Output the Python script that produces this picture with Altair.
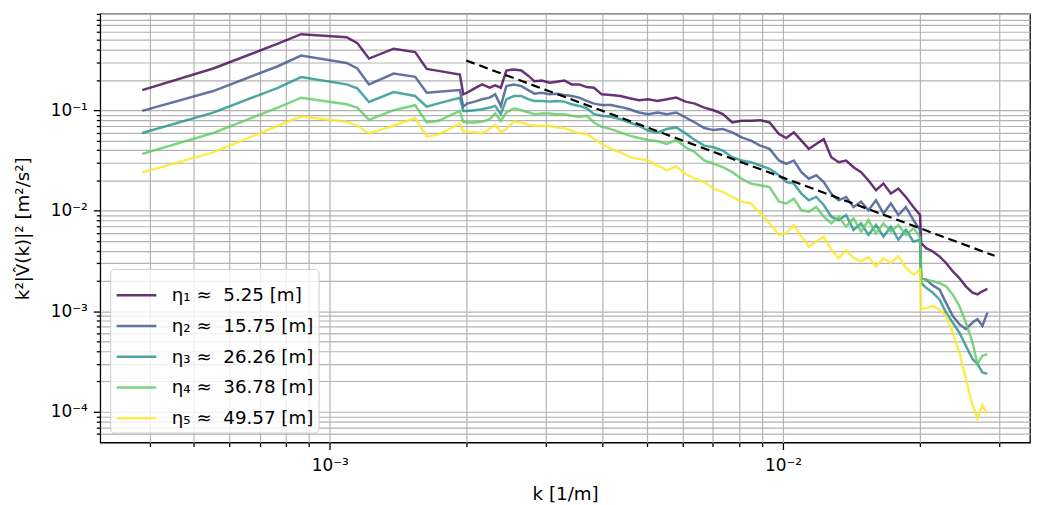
import altair as alt
import pandas as pd

# wavenumbers k [1/m]
k_lo = [3.855e-4, 5.53e-4, 7.68e-4, 8.64e-4, 1.089e-3, 1.15e-3, 1.22e-3, 1.383e-3,
        1.543e-3, 1.636e-3, 1.736e-3, 1.936e-3, 1.97e-3]
k_hi = [2.009e-3, 2.087e-3, 2.167e-3, 2.252e-3, 2.317e-3, 2.384e-3, 2.452e-3, 2.547e-3, 2.646e-3, 2.748e-3,
        2.827e-3, 2.937e-3, 3.05e-3, 3.168e-3, 3.29e-3, 3.418e-3, 3.55e-3, 3.687e-3, 3.829e-3, 3.979e-3,
        4.172e-3, 4.375e-3, 4.587e-3, 4.809e-3, 5.042e-3, 5.286e-3, 5.543e-3, 5.812e-3, 6.095e-3, 6.39e-3,
        6.70e-3, 7.025e-3, 7.366e-3, 7.727e-3, 8.101e-3, 8.495e-3, 8.909e-3, 9.342e-3, 9.795e-3, 1.017e-2,
        1.0566e-2, 1.098e-2, 1.140e-2, 1.184e-2, 1.230e-2, 1.278e-2, 1.327e-2, 1.378e-2, 1.431e-2, 1.487e-2,
        1.544e-2, 1.604e-2, 1.666e-2, 1.730e-2, 1.797e-2, 1.867e-2, 1.940e-2, 2.006e-2]
k_tail = [2.018e-2, 2.07e-2, 2.141e-2, 2.214e-2, 2.29e-2, 2.368e-2, 2.449e-2, 2.532e-2,
          2.619e-2, 2.686e-2, 2.754e-2, 2.825e-2]

eta1_lo = [0.1586, 0.260, 0.4585, 0.5705, 0.533, 0.465, 0.326, 0.409, 0.379, 0.2575, 0.246, 0.2266, 0.1439]
eta1_hi = [0.1493, 0.1647, 0.1804, 0.1673, 0.1764, 0.1673, 0.2480, 0.2537, 0.2480, 0.2180,
           0.1947, 0.1976, 0.1874, 0.1917, 0.1976, 0.1804, 0.1804, 0.1698, 0.1673, 0.1438,
           0.1416, 0.1384, 0.1313, 0.1254, 0.1283, 0.1236, 0.1283, 0.1333, 0.1217, 0.1163,
           0.1062, 0.0999, 0.0913, 0.0755, 0.0784, 0.0784, 0.0796, 0.0755, 0.0579, 0.0529,
           0.0602, 0.0498, 0.0412, 0.0461, 0.0517, 0.0341, 0.0304, 0.0316, 0.0271, 0.0242,
           0.0200, 0.0160, 0.0186, 0.0148, 0.0166, 0.0137, 0.0109, 0.00906]
eta1_tail = [0.00475, 0.00424, 0.00393, 0.00351, 0.00302, 0.00250, 0.00214, 0.00177,
             0.00153, 0.00147, 0.00158, 0.00167]

eta2_lo = [0.0984, 0.155, 0.2737, 0.349, 0.295, 0.260, 0.1806, 0.2318, 0.2147, 0.1492, 0.1527, 0.1586, 0.1085]
eta2_hi = [0.1163, 0.1217, 0.1283, 0.1333, 0.1438, 0.1103, 0.1737, 0.1804, 0.1737, 0.1574,
           0.1460, 0.1493, 0.1438, 0.1460, 0.1416, 0.1384, 0.1333, 0.1236, 0.1163, 0.1128,
           0.1128, 0.1078, 0.1022, 0.0948, 0.0913, 0.0948, 0.0913, 0.0948, 0.0846, 0.0755,
           0.0664, 0.0634, 0.0649, 0.0602, 0.0537, 0.0498, 0.0444, 0.0412, 0.0316, 0.0293,
           0.0316, 0.0242, 0.0208, 0.0225, 0.0193, 0.0148, 0.0127, 0.0137, 0.0109, 0.0123,
           0.0101, 0.0127, 0.00941, 0.0118, 0.00906, 0.0109, 0.00808, 0.00644]
eta2_tail = [0.00214, 0.00206, 0.00180, 0.00165, 0.00121, 0.000898, 0.000744, 0.000663,
             0.000772, 0.000832, 0.000715, 0.000968]

eta3_lo = [0.0593, 0.0947, 0.167, 0.2132, 0.1806, 0.165, 0.1208, 0.1516, 0.1384, 0.1085, 0.117, 0.1332, 0.0984]
eta3_hi = [0.0984, 0.0999, 0.1022, 0.1062, 0.1103, 0.0913, 0.1283, 0.1384, 0.1384, 0.1283,
           0.1236, 0.1236, 0.1217, 0.1236, 0.1217, 0.1145, 0.1103, 0.1046, 0.0913, 0.0879,
           0.0859, 0.0815, 0.0755, 0.0700, 0.0625, 0.0602, 0.0649, 0.0674, 0.0588, 0.0505,
           0.0444, 0.0428, 0.0396, 0.0341, 0.0316, 0.0304, 0.0282, 0.0261, 0.0225, 0.0193,
           0.0186, 0.0148, 0.0127, 0.0137, 0.0114, 0.00871, 0.00808, 0.00906, 0.00644, 0.00749,
           0.00575, 0.00721, 0.00553, 0.00694, 0.00513, 0.00644, 0.00494, 0.00513]
eta3_tail = [0.00191, 0.00171, 0.00153, 0.00131, 0.000968, 0.000772, 0.000615, 0.000453,
             0.000335, 0.000299, 0.000246, 0.000238]

eta4_lo = [0.0368, 0.0593, 0.1061, 0.1332, 0.1146, 0.1061, 0.0802, 0.100, 0.112, 0.0754, 0.0784, 0.0984, 0.0766]
eta4_hi = [0.0755, 0.0755, 0.0766, 0.0815, 0.0926, 0.0784, 0.0948, 0.1046, 0.0999, 0.0948,
           0.0913, 0.0926, 0.0926, 0.0913, 0.0913, 0.0879, 0.0859, 0.0879, 0.0755, 0.0684,
           0.0649, 0.0602, 0.0558, 0.0529, 0.0505, 0.0490, 0.0461, 0.0505, 0.0428, 0.0382,
           0.0316, 0.0293, 0.0271, 0.0242, 0.0208, 0.0186, 0.0179, 0.0172, 0.0123, 0.0118,
           0.0132, 0.0101, 0.00977, 0.0109, 0.00871, 0.00749, 0.00871, 0.00694, 0.00839, 0.0062,
           0.00808, 0.00597, 0.00749, 0.0062, 0.00721, 0.00575, 0.00669, 0.00553]
eta4_tail = [0.00214, 0.00206, 0.00199, 0.00191, 0.00177, 0.00147, 0.00113, 0.000772,
             0.000489, 0.000299, 0.000361, 0.000375]

eta5_lo = [0.0240, 0.0381, 0.070, 0.0865, 0.0766, 0.070, 0.0587, 0.070, 0.0834, 0.0549, 0.0571, 0.0737, 0.0615]
eta5_hi = [0.0615, 0.0602, 0.0588, 0.0649, 0.0716, 0.0602, 0.0649, 0.0772, 0.0755, 0.0716,
           0.0700, 0.0700, 0.0700, 0.0674, 0.0664, 0.0625, 0.0588, 0.0579, 0.0517, 0.0461,
           0.0412, 0.0382, 0.0341, 0.0328, 0.0316, 0.0282, 0.0252, 0.0276, 0.0233, 0.0208,
           0.0193, 0.0166, 0.0154, 0.0137, 0.0123, 0.0118, 0.00941, 0.00749, 0.00575, 0.00597,
           0.00721, 0.00553, 0.00440, 0.00493, 0.00553, 0.00408, 0.00338, 0.00402, 0.00338, 0.00313,
           0.00345, 0.00280, 0.00338, 0.00302, 0.00351, 0.00269, 0.00231, 0.00259]
eta5_tail = [0.00104, 0.00108, 0.00113, 0.00104, 0.000898, 0.000615, 0.000391, 0.000213,
             0.000116, 0.000086, 0.000116, 0.000096]

# -5/3 reference line
dash_k = [2.0e-3, 2.93e-2]
dash_v = [0.312, 0.00356]

labels = ["η₁ ≈\u00a0 5.25 [m]", "η₂ ≈\u00a0 15.75 [m]", "η₃ ≈\u00a0 26.26 [m]",
          "η₄ ≈\u00a0 36.78 [m]", "η₅ ≈\u00a0 49.57 [m]"]
colors = ["#440154", "#3b528b", "#21918c", "#5ec962", "#fde725"]

x_major = [1e-3, 1e-2]
x_minor = [4e-4, 5e-4, 6e-4, 7e-4, 8e-4, 9e-4, 2e-3, 3e-3, 4e-3, 5e-3, 6e-3, 7e-3,
           8e-3, 9e-3, 2e-2, 3e-2]
y_major = [1e-4, 1e-3, 1e-2, 1e-1]
y_minor = [6e-5, 7e-5, 8e-5, 9e-5, 2e-4, 3e-4, 4e-4, 5e-4, 6e-4, 7e-4, 8e-4, 9e-4,
           2e-3, 3e-3, 4e-3, 5e-3, 6e-3, 7e-3, 8e-3, 9e-3, 2e-2, 3e-2, 4e-2, 5e-2,
           6e-2, 7e-2, 8e-2, 9e-2, 0.2, 0.3, 0.4, 0.5, 0.6, 0.7, 0.8, 0.9]

series = [
    (labels[0], eta1_lo + eta1_hi + eta1_tail),
    (labels[1], eta2_lo + eta2_hi + eta2_tail),
    (labels[2], eta3_lo + eta3_hi + eta3_tail),
    (labels[3], eta4_lo + eta4_hi + eta4_tail),
    (labels[4], eta5_lo + eta5_hi + eta5_tail),
]
k_all = k_lo + k_hi + k_tail
rows = []
for i, (lab, vals) in enumerate(series):
    for j, (kk, vv) in enumerate(zip(k_all, vals)):
        rows.append({"k": kk, "v": vv, "label": lab, "s": i, "idx": j})
df = pd.DataFrame(rows)
df_dash = pd.DataFrame({"k": dash_k, "v": dash_v})

x_scale = alt.Scale(type="log", domain=[3.115e-4, 0.03508], nice=False)
y_scale = alt.Scale(type="log", domain=[4.94e-5, 0.908], nice=False)

FONT = "DejaVu Sans"
grid_style = dict(grid=True, gridColor="#b3b3b3", gridWidth=1.2, tickColor="black",
                  tickWidth=1.3, domain=False)

lines = alt.Chart(df).mark_line(strokeWidth=2.5, opacity=0.8, clip=True).encode(
    x=alt.X("k:Q", scale=x_scale,
            axis=alt.Axis(values=x_minor, tickSize=4, labels=False, title=None,
                          orient="bottom", **grid_style)),
    y=alt.Y("v:Q", scale=y_scale,
            axis=alt.Axis(values=y_minor, tickSize=4, labels=False, title=None,
                          orient="left", **grid_style)),
    color=alt.Color("label:N", scale=alt.Scale(domain=labels, range=colors),
                    legend=alt.Legend(title=None, orient="bottom-left", offset=10,
                                      labelFontSize=18.4, labelFont=FONT, labelColor="black",
                                      symbolType="stroke", symbolSize=1600,
                                      symbolStrokeWidth=2.5, symbolOpacity=0.8,
                                      fillColor="rgba(255,255,255,0.8)",
                                      strokeColor="#cccccc", cornerRadius=4,
                                      padding=5, rowPadding=-10.5, labelOffset=14)),
    detail="s:N",
    order="idx:Q",
)

dash = alt.Chart(df_dash).mark_line(color="black", strokeDash=[9, 5], strokeWidth=2.2,
                                    clip=True).encode(
    x=alt.X("k:Q", scale=x_scale,
            axis=alt.Axis(values=x_major, tickSize=7, title="k [1/m]", orient="bottom",
                          labelExpr="datum.value > 0.005 ? '10⁻²' : '10⁻³'",
                          labelFontSize=17, labelFont=FONT, labelPadding=8,
                          titleFontSize=18.4, titleFont=FONT, titleFontWeight="normal",
                          titlePadding=11, labelColor="black", titleColor="black",
                          **grid_style)),
    y=alt.Y("v:Q", scale=y_scale,
            axis=alt.Axis(values=y_major, tickSize=7,
                          title="k²|V̂(k)|² [m²/s²]", orient="left",
                          labelExpr="datum.value > 0.05 ? '10⁻¹' : datum.value > 0.005 ? '10⁻²' : datum.value > 0.0005 ? '10⁻³' : '10⁻⁴'",
                          labelFontSize=17, labelFont=FONT, labelPadding=6,
                          titleFontSize=18.4, titleFont=FONT, titleFontWeight="normal",
                          titlePadding=18, labelColor="black", titleColor="black",
                          **grid_style)),
)

chart = alt.layer(lines, dash).resolve_axis(x="independent", y="independent").properties(
    width=937, height=432,
    padding={"left": 93, "top": 4, "right": 2, "bottom": 60},
    autosize=alt.AutoSizeParams(type="none"),
).configure_view(stroke="black", strokeWidth=1.3)

chart.save("out.html", embed_options={"renderer": "svg", "actions": False})
